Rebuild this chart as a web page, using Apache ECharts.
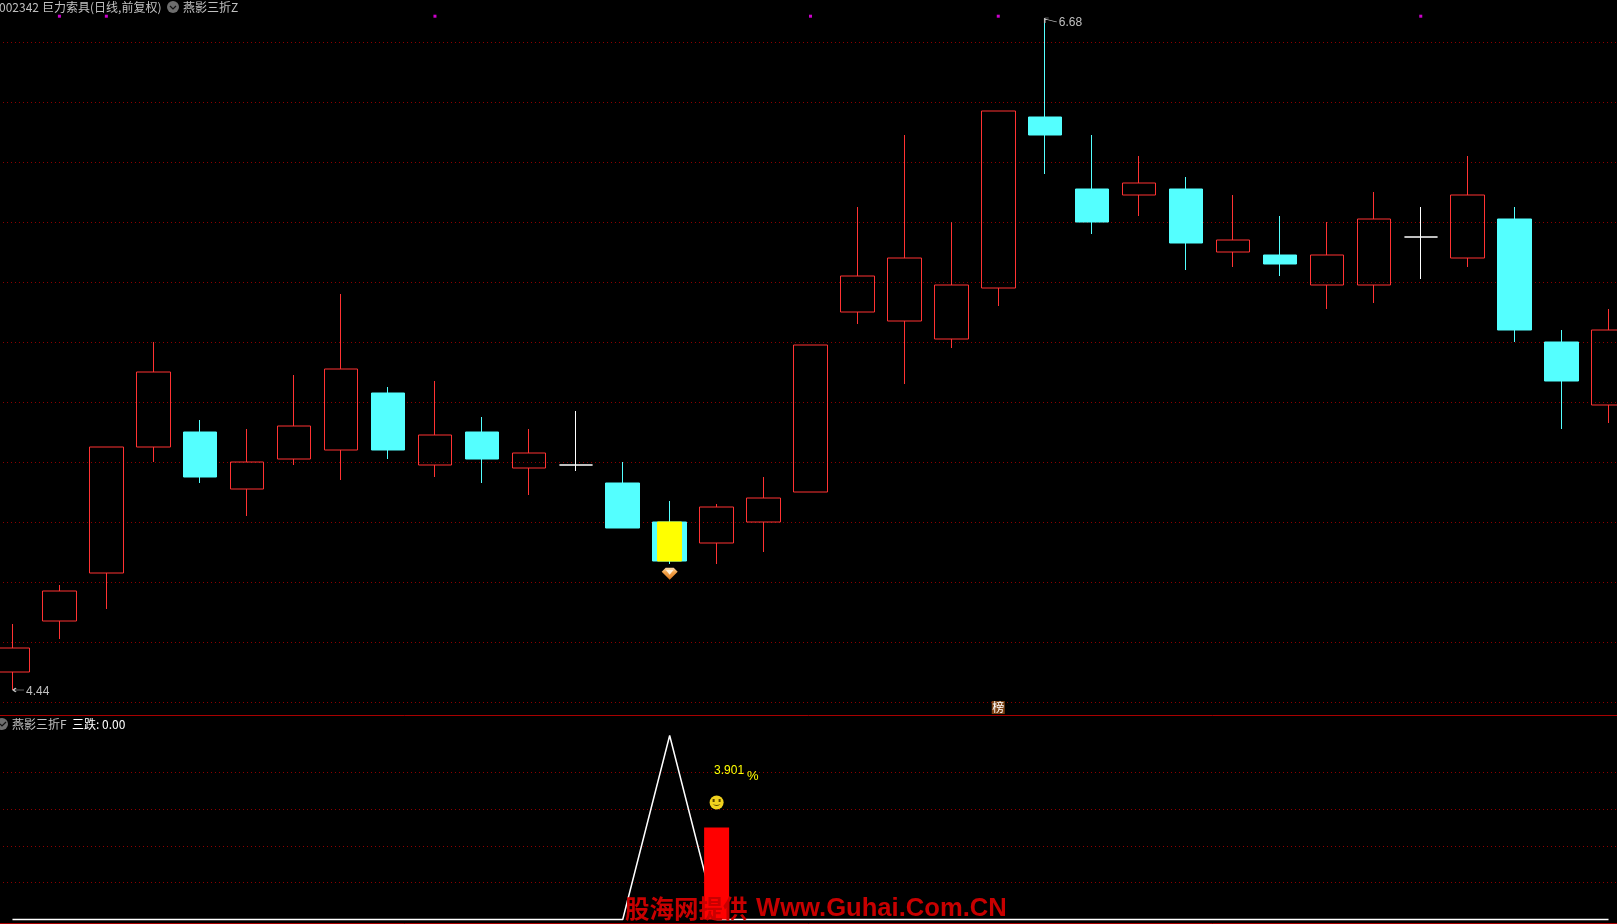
<!DOCTYPE html>
<html><head><meta charset="utf-8">
<style>html,body{margin:0;padding:0;background:#000;overflow:hidden}#c{width:1617px;height:924px}</style>
<script src="https://cdn.jsdelivr.net/npm/echarts@6/dist/echarts.min.js"></script>
</head><body><div id="c"></div>
<script>
const categories = ['1','2','3','4','5','6','7','8','9','10','11','12','13','14','15','16','17','18','19','20','21','22','23','24','25','26','27','28','29','30','31','32','33','34','35'];
const openPrices  = [4.50,4.67,4.83,5.25,5.30,5.11,5.21,5.24,5.43,5.19,5.30,5.18,5.19,5.13,5.00,4.93,5.00,5.10,5.70,5.67,5.61,5.78,6.35,6.11,6.09,6.11,5.90,5.89,5.79,5.79,5.95,5.88,6.01,5.60,5.39];
const closePrices = [4.58,4.77,5.25,5.50,5.15,5.20,5.32,5.51,5.24,5.29,5.21,5.23,5.19,4.98,4.87,5.05,5.08,5.59,5.82,5.88,5.79,6.37,6.29,6.00,6.13,5.93,5.94,5.86,5.89,6.01,5.95,6.09,5.64,5.47,5.64];
const lowPrices   = [4.44,4.61,4.71,5.20,5.13,5.02,5.19,5.14,5.21,5.15,5.13,5.09,5.17,4.98,4.86,4.86,4.90,5.10,5.66,5.46,5.58,5.72,6.16,5.96,6.02,5.84,5.85,5.82,5.71,5.73,5.81,5.85,5.60,5.31,5.33];
const highPrices  = [4.66,4.79,5.25,5.60,5.34,5.31,5.49,5.76,5.45,5.47,5.35,5.31,5.37,5.20,5.07,5.06,5.15,5.59,6.05,6.29,6.00,6.37,6.68,6.29,6.22,6.15,6.09,6.02,6.00,6.10,6.05,6.22,6.05,5.64,5.71];
const highlightIndex = 14;
const highlightOpen = 4.87;
const highlightClose = 5.00;
const signalIndexes = [1,2,9,17,21,30];
const signalLevel = 6.686;
const sanDie = [0,0,0,0,0,0,0,0,0,0,0,0,0,0,1,0,0,0,0,0,0,0,0,0,0,0,0,0,0,0,0,0,0,0,0];
const barIndex = 15;
const barValue = 0.5;
const priceTicks = {min:4.4,max:6.8,interval:0.2};
const indicatorTicks = {min:0,max:1,interval:0.2};

const candles = categories.map((_, i) => [openPrices[i], closePrices[i], lowPrices[i], highPrices[i]]);
const highlight = categories.map((_, i) => i === highlightIndex ? [highlightOpen, highlightClose, highlightOpen, highlightClose] : ['-','-','-','-']);
const bars = categories.map((_, i) => i === barIndex ? barValue : '-');
const signals = signalIndexes.map(i => [i, signalLevel]);

const GRID = '#8e0000', GREY = '#c0c0c0', LEFT = -11, WIDTH = 1643;
const CJK = '"Noto Sans CJK SC"', LAT = '"Liberation Sans"';
const splitStyle = {color: GRID, width: 1, type: [1, 3], dashOffset: 2};
const dot = {symbol: 'circle', symbolSize: 1, itemStyle: {color: 'transparent'}};
const hide = {axisLine:{show:false},axisTick:{show:false},axisLabel:{show:false}};

function stext(x, y, text, fill, font, extra) {
  return Object.assign({type:'text', silent:true, x, y, style:{text, fill, font, textVerticalAlign:'middle'}}, extra||{});
}
const chart = echarts.init(document.getElementById('c'), null, {renderer:'canvas', width:1617, height:924});
chart.setOption({
  animation:false,
  backgroundColor:'#000',
  grid:[
    {left:LEFT, width:WIDTH, top:-18, height:720, show:false, outerBoundsMode:'none'},
    {left:LEFT, width:WIDTH, top:735.5, height:184, show:false, outerBoundsMode:'none'}
  ],
  xAxis:[
    Object.assign({type:'category', gridIndex:0, data:categories, boundaryGap:true, splitLine:{show:false}}, hide),
    Object.assign({type:'category', gridIndex:1, data:categories, boundaryGap:true, splitLine:{show:false}}, hide)
  ],
  yAxis:[
    Object.assign({type:'value', gridIndex:0, min:priceTicks.min, max:priceTicks.max, interval:priceTicks.interval, scale:true,
      splitLine:{show:true, lineStyle:splitStyle}}, hide),
    Object.assign({type:'value', gridIndex:1, min:indicatorTicks.min, max:indicatorTicks.max, interval:indicatorTicks.interval,
      splitLine:{show:true, showMinLine:false, showMaxLine:false, lineStyle:splitStyle}}, hide)
  ],
  series:[
    {type:'candlestick', name:'K', xAxisIndex:0, yAxisIndex:0, data:candles, barWidth:34, clip:false,
      itemStyle:{color:'transparent', color0:'#54ffff', borderColor:'#ff3232', borderColor0:'#54ffff', borderColorDoji:'#ffffff', borderWidth:1},
      markPoint:{silent:true, animation:false, data:[
        {coord:[22,6.68], symbol:'path://M0 0H4M0 0V5M0 1L12 4', symbolSize:[12,5], symbolOffset:[5.5,2.5],
          itemStyle:{color:'transparent', borderColor:GREY, borderWidth:1}, label:{show:false}},
        Object.assign({coord:[22,6.68], name:'6.68', label:{show:true, formatter:'6.68', position:'right', distance:0, offset:[13,5], color:GREY, fontSize:12, fontFamily:LAT}}, dot),
        {coord:[0,4.44], symbol:'path://M0 3H11M0 3L3 1M0 3L3 5', symbolSize:[11,4], symbolOffset:[6,0],
          itemStyle:{color:'transparent', borderColor:GREY, borderWidth:1}, label:{show:false}},
        Object.assign({coord:[0,4.44], name:'4.44', label:{show:true, formatter:'4.44', position:'right', distance:0, offset:[13,2], color:GREY, fontSize:12, fontFamily:LAT}}, dot),
        {coord:[14,4.831], symbol:'path://M4 0H12L16 4L8 12L0 4Z', symbolSize:[16,12], symbolOffset:[0,1],
          itemStyle:{color:{type:'linear',x:0,y:0,x2:0,y2:1,colorStops:[{offset:0,color:'#ffdca8'},{offset:0.4,color:'#f2a24a'},{offset:1,color:'#d9781e'}]}}, label:{show:false}},
        {coord:[14,4.831], symbol:'path://M0 0H8L4 5Z', symbolSize:[8,5], symbolOffset:[0,-0.5],
          itemStyle:{color:'#fff1dc'}, label:{show:false}},
        {coord:[21,4.41], symbol:'rect', symbolSize:[13,13], symbolOffset:[0,8.5], itemStyle:{color:'#7a4012'},
          label:{show:true, formatter:'榜', position:'inside', color:'#ffffff', fontSize:12, fontFamily:CJK}}
      ]}
    },
    {type:'candlestick', name:'highlight', xAxisIndex:0, yAxisIndex:0, data:highlight, barWidth:25, z:3,
      itemStyle:{color:'#ffff00', color0:'#ffff00', borderColor:'#ffff00', borderColor0:'#ffff00', borderWidth:1}},
    {type:'scatter', name:'signal', xAxisIndex:0, yAxisIndex:0, data:signals, symbol:'rect', symbolSize:3, itemStyle:{color:'#ff00ff'}, silent:true},
    {type:'line', name:'三跌', xAxisIndex:1, yAxisIndex:1, data:sanDie, symbol:'none', showSymbol:false, clip:false,
      lineStyle:{color:'#ffffff', width:1.5}, z:3},
    {type:'bar', name:'bar', xAxisIndex:1, yAxisIndex:1, data:bars, barWidth:25, itemStyle:{color:'#ff0000'}, z:4, clip:false,
      markPoint:{silent:true, animation:false, data:[
        {coord:[15,0.636], symbol:'circle', symbolSize:14, itemStyle:{color:'#f2d21e'}, label:{show:false}},
        {coord:[15,0.636], symbol:'path://M0 0H2V3H0ZM6 0H8V3H6ZM0 5Q4 9 8 5Q4 7 0 5Z', symbolSize:[8,7], symbolOffset:[0,0], itemStyle:{color:'#5a4400'}, label:{show:false}},
        Object.assign({coord:[15,0.807], name:'3.901', label:{show:true, formatter:'3.901', position:'right', distance:0, offset:[-3,0], color:'#ffff00', fontSize:12, fontFamily:LAT}}, dot),
        Object.assign({coord:[15,0.78], name:'%', label:{show:true, formatter:'%', position:'right', distance:0, offset:[30,0], color:'#ffff00', fontSize:13, fontFamily:LAT}}, dot)
      ]}
    }
  ],
  graphic:[
    {type:'line', silent:true, z:5, shape:{x1:0,y1:715.5,x2:1617,y2:715.5}, style:{stroke:'#a80000', lineWidth:1}},
    {type:'line', silent:true, z:5, shape:{x1:0,y1:923.5,x2:1617,y2:923.5}, style:{stroke:'#a80000', lineWidth:1}},
    stext(-1, 7.5, '002342', GREY, '12px '+CJK),
    stext(42, 7.5, '巨力索具(日线,前复权)', GREY, '12px '+CJK),
    {type:'circle', silent:true, shape:{cx:173,cy:7,r:6}, style:{fill:'#6e6e6e'}},
    {type:'polyline', silent:true, shape:{points:[[170,6],[173,9],[176,6]]}, style:{stroke:'#111', fill:'none', lineWidth:1.2}},
    stext(183, 7.5, '燕影三折Z', GREY, '12px '+CJK),
    {type:'circle', silent:true, shape:{cx:2,cy:724,r:6}, style:{fill:'#6e6e6e'}},
    {type:'polyline', silent:true, shape:{points:[[0,724],[2,726],[6,722]]}, style:{stroke:'#111', fill:'none', lineWidth:1.2}},
    stext(12, 724, '燕影三折F', GREY, '12px '+CJK),
    stext(72, 724, '三跌: 0.00', '#ffffff', '12px '+CJK),
    stext(625, 909, '股海网提供', '#c80000', 'bold 24.5px '+CJK, {z:100}),
    stext(756, 909, 'Www.Guhai.Com.CN', '#c80000', 'bold 25.6px '+LAT, {z:100})
  ]
});
</script></body></html>
